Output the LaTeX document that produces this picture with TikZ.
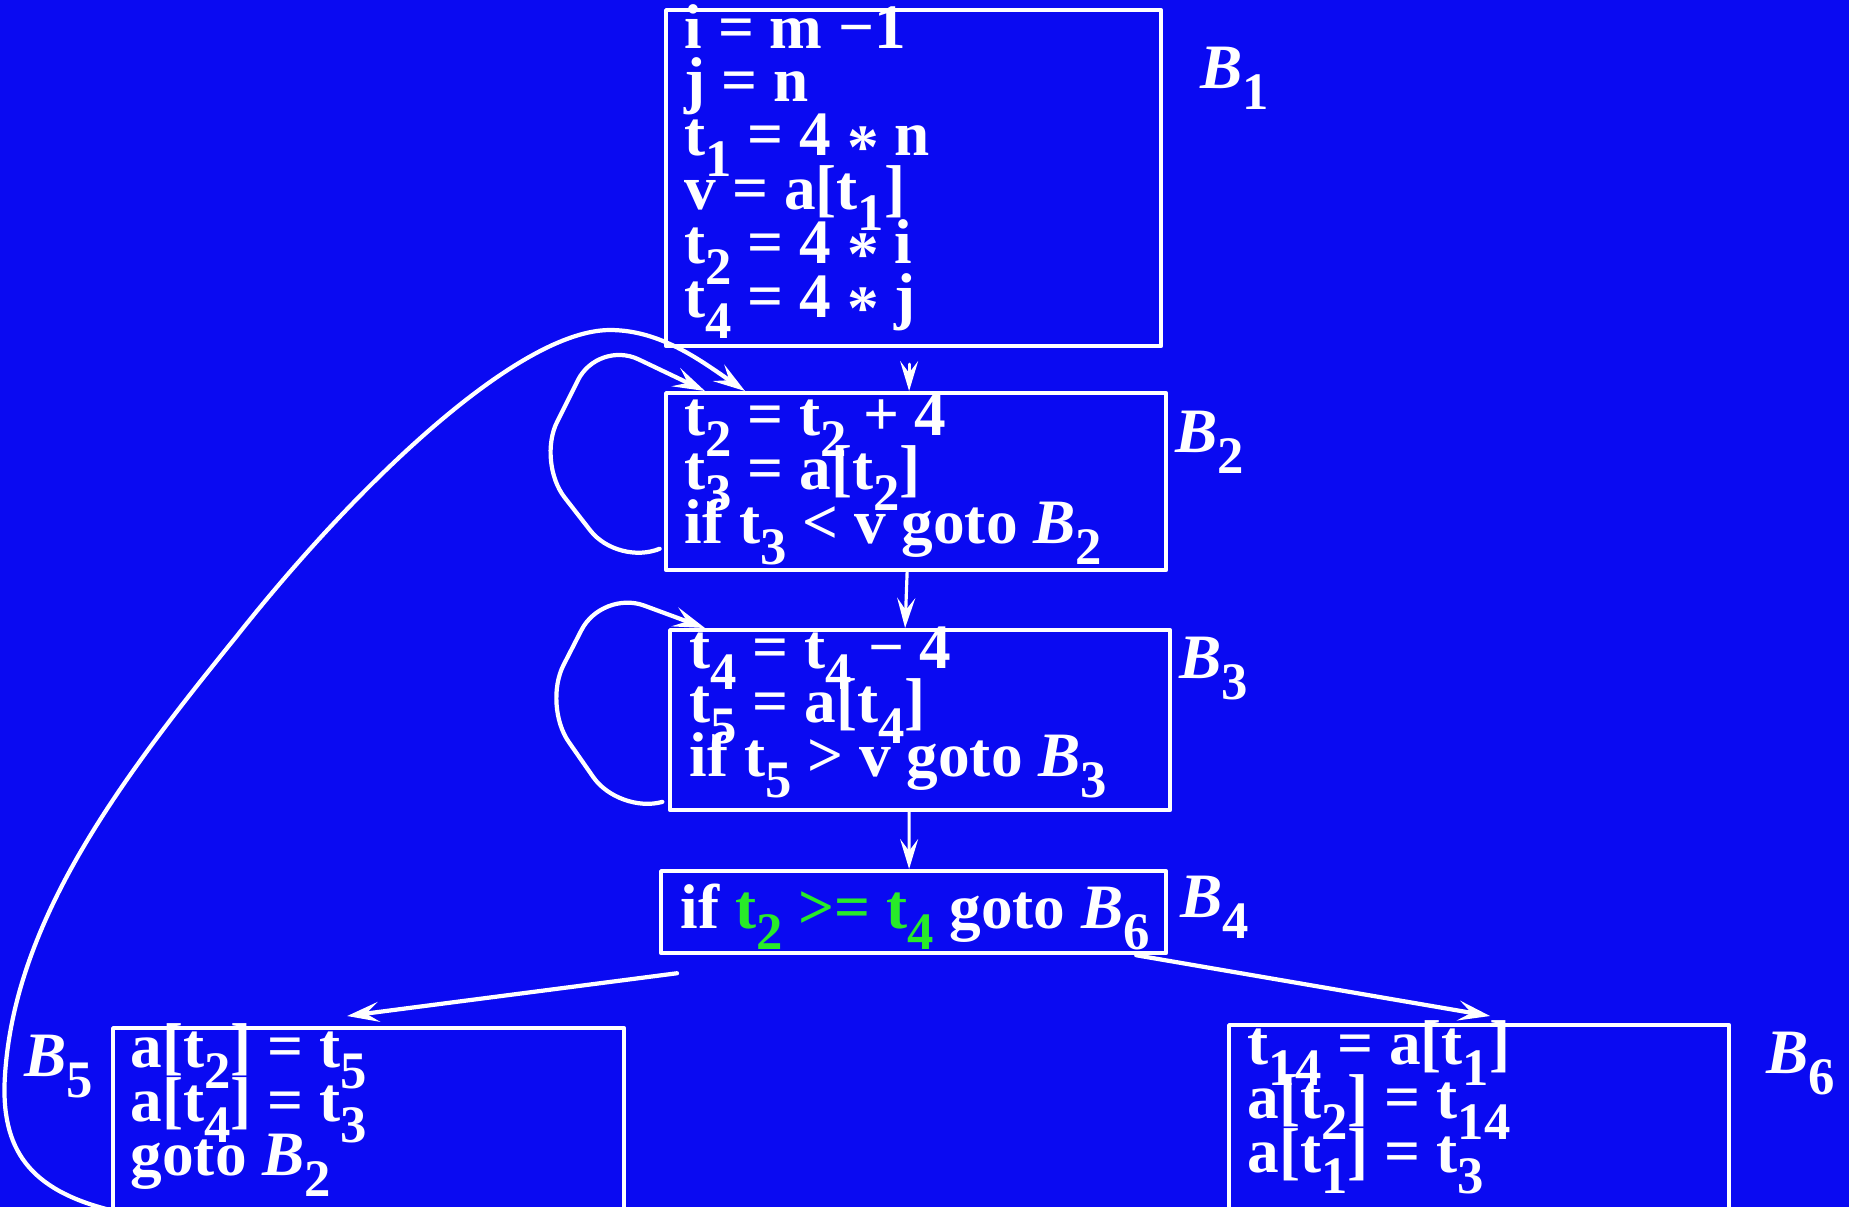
\documentclass[tikz,border=0pt]{standalone}
\usepackage{fontspec}
\setmainfont{Liberation Serif}
\usetikzlibrary{arrows.meta}

\definecolor{slideblue}{RGB}{10,10,242}
\definecolor{condgreen}{RGB}{40,235,40}

\setlength{\lineskiplimit}{-30pt}
\newcommand{\codesize}{\fontsize{18}{15.3}\selectfont\bfseries}
\newcommand{\ix}[1]{\raisebox{-6pt}[0pt][0pt]{\fontsize{15}{15}\selectfont #1}}
\newcommand{\blk}[1]{\textit{B}\ix{#1}}
\newcommand{\mul}{\raisebox{-3.5pt}{*}}

\tikzset{
  blockbox/.style={draw=white, line width=1.2pt, inner sep=0pt, anchor=north west},
  % anchored on the baseline of the last line
  code/.style={font=\codesize, text=white, align=left, inner sep=0pt, anchor=base west},
  blocklab/.style={font=\codesize, text=white, inner sep=0pt, anchor=base west},
  flow/.style={draw=white, line width=0.9pt, -{Stealth[length=3mm,width=1.8mm,inset=1.2mm]}},
  branch/.style={draw=white, line width=1.2pt, -{Stealth[length=3.2mm,width=2mm,inset=1.3mm]}},
  backloop/.style={draw=white, line width=1.2pt, rounded corners=4.5mm,
    -{Stealth[length=3.2mm,width=2mm,inset=1.3mm]}}
}

\begin{document}
\begin{tikzpicture}[x=0.1mm, y=-0.1mm, line cap=round, line join=round]
  \useasboundingbox (0,0) rectangle (1849,1207);
  \fill[slideblue] (0,0) rectangle (1849,1207);

  % Blocks
  \node[blockbox, minimum width=49.5mm, minimum height=33.6mm] (B1box) at (664,8) {};
  \node[blockbox, minimum width=50mm, minimum height=17.7mm] (B2box) at (664,391) {};
  \node[blockbox, minimum width=50mm, minimum height=18mm] (B3box) at (668,628) {};
  \node[blockbox, minimum width=50.5mm, minimum height=8.2mm] (B4box) at (659,869) {};
  \node[blockbox, minimum width=51.1mm, minimum height=18.8mm] (B5box) at (111,1026) {};
  \node[blockbox, minimum width=50mm, minimum height=19mm] (B6box) at (1227,1023) {};

  % Code of each block
  \node[code] (B1code) at (684,317)
    {i = m −1\\ j = n\\ t\ix{1} = 4 \mul{} n\\ v = a[t\ix{1}]\\ t\ix{2} = 4 \mul{} i\\ t\ix{4} = 4 \mul{} j};
  \node[code] (B2code) at (684,543)
    {t\ix{2} = t\ix{2} + 4\\ t\ix{3} = a[t\ix{2}]\\ if t\ix{3} < v goto \blk{2}};
  \node[code] (B3code) at (689,776)
    {t\ix{4} = t\ix{4} − 4\\ t\ix{5} = a[t\ix{4}]\\ if t\ix{5} > v goto \blk{3}};
  \node[code] (B4code) at (680,928)
    {if \textcolor{condgreen}{t\ix{2} >= t\ix{4}} goto \blk{6}};
  \node[code] (B5code) at (130,1175)
    {a[t\ix{2}] = t\ix{5}\\ a[t\ix{4}] = t\ix{3}\\ goto \blk{2}};
  \node[code] (B6code) at (1247,1172)
    {t\ix{14} = a[t\ix{1}]\\ a[t\ix{2}] = t\ix{14}\\ a[t\ix{1}] = t\ix{3}};

  % Block names
  \node[blocklab] (B1lab) at (1200,88)   {\blk{1}};
  \node[blocklab] (B2lab) at (1175,452)  {\blk{2}};
  \node[blocklab] (B3lab) at (1179,678)  {\blk{3}};
  \node[blocklab] (B4lab) at (1180,917)  {\blk{4}};
  \node[blocklab] (B5lab) at (24,1076)   {\blk{5}};
  \node[blocklab] (B6lab) at (1766,1073) {\blk{6}};

  % Straight flow
  \draw[flow] ([xshift=-0.45mm,yshift=-1.6mm]B1box.south) -- ([xshift=-0.7mm]B2box.north);
  \draw[flow] ([xshift=-0.9mm]B2box.south) -- ([xshift=-1.5mm]B3box.north);
  \draw[flow] ([xshift=-1.1mm]B3box.south) -- ([xshift=-0.45mm]B4box.north);

  % Branches of B4
  \draw[branch] ([xshift=1.8mm,yshift=-1.8mm]B4box.south west)
    -- ([xshift=-2.15mm,yshift=1mm]B5box.north);
  \draw[branch] ([xshift=-3.2mm]B4box.south east)
    -- ([xshift=1.1mm,yshift=0.7mm]B6box.north);

  % Self loops
  \draw[backloop] ([xshift=-0.8mm,yshift=2.2mm]B2box.south west)
    -- (618,566) -- (537,462) -- (598,340) -- ([xshift=4.1mm]B2box.north west);
  \draw[backloop] ([xshift=-0.7mm,yshift=1mm]B3box.south west)
    -- (619,814) -- (543,705) -- (602,590) -- ([xshift=3.7mm]B3box.north west);

  % B5 back to B2
  \draw[branch] ([yshift=0.8mm]B5box.south west)
    .. controls (30,1190) and (0,1150) .. (5,1075)
    .. controls (15,920) and (120,780) .. (236,637)
    .. controls (360,480) and (520,330) .. (610,330)
    .. controls (660,330) and (700,360) .. ([xshift=8.1mm]B2box.north west);
\end{tikzpicture}
\end{document}
